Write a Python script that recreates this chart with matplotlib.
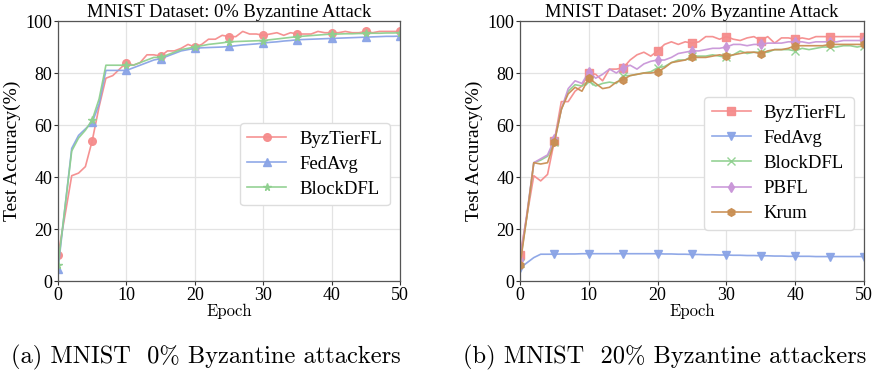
import numpy as np
import matplotlib
matplotlib.use("Agg")
import matplotlib.pyplot as plt

# ==========================
# Data
# ==========================
epochs = np.arange(0, 51)

# (a) 0% Byzantine
a_byztier = [10, 25, 40.5, 41.5, 44, 54, 67, 78, 79, 81.5,
             84, 83, 84, 87, 87, 86.5, 88.5, 88.5, 89.5, 91,
             90, 91, 93, 93, 94.5, 94, 94, 96, 95, 95,
             94.5, 95, 95.5, 94.5, 95.5, 95, 95, 95, 96, 95.5,
             95.5, 95.5, 96, 95.5, 95.5, 96, 95.5, 96, 96, 96, 96]
a_fedavg = [4.5, 28, 51, 56, 58.5, 61, 68, 81, 81, 81,
            81, 82, 83, 84, 85, 85.5, 86.5, 87.5, 88.5, 89,
            89.5, 89.7, 89.8, 89.9, 90, 90.2, 90.5, 90.8, 91, 91.2,
            91.5, 91.8, 92, 92.3, 92.5, 92.8, 92.9, 93, 93.1, 93.2,
            93.3, 93.4, 93.5, 93.6, 93.7, 93.8, 93.9, 94, 94.1, 94.1, 94.2]
a_blockdfl = [6, 28, 50, 55, 58, 62, 70, 83, 83, 83,
              83, 83, 84, 85, 86, 86, 87, 88, 89, 89.5,
              90, 90.5, 91, 91.3, 91.6, 92, 92.1, 92.2, 92.3, 92.4,
              92.5, 92.8, 93.1, 93.4, 93.7, 94, 94.2, 94.4, 94.6, 94.8,
              95, 95, 95.1, 95.1, 95.2, 95.2, 95.3, 95.3, 95.4, 95.4, 95.5]

# (b) 20% Byzantine
b_byztier = [10, 25, 40.5, 38.5, 41, 54, 69, 69, 73, 75,
             80, 79.5, 77, 81.5, 81.5, 82, 85, 87, 88, 86.5,
             88.5, 91, 92, 91, 92, 91.5, 92, 94, 94, 93,
             94, 93, 92.5, 93.5, 94, 92.5, 94, 91.5, 93.5, 93.5,
             93, 93.5, 93, 94, 94, 94, 94, 94, 94, 94, 94]
b_fedavg = [5, 7, 9, 10.3, 10.3, 10.3, 10.4, 10.4, 10.4, 10.5,
            10.5, 10.5, 10.5, 10.5, 10.5, 10.5, 10.5, 10.5, 10.5, 10.5,
            10.5, 10.4, 10.4, 10.3, 10.3, 10.2, 10.2, 10.1, 10.1, 10,
            10, 9.9, 9.9, 9.8, 9.8, 9.7, 9.7, 9.6, 9.6, 9.5,
            9.5, 9.5, 9.5, 9.4, 9.4, 9.4, 9.4, 9.4, 9.4, 9.4, 9.4]
b_blockdfl = [7, 25, 45.5, 46.5, 48, 53.5, 66, 73, 75.5, 75,
              77, 75, 76, 76.5, 76, 79, 79, 79.5, 80, 80.5,
              82, 82.5, 84, 85, 85, 86.5, 86.5, 86.5, 87, 86.5,
              86, 87, 88.5, 87.5, 88, 88, 88, 89, 89, 89,
              88.5, 89.5, 89, 89.5, 90, 90, 90, 90.5, 90.5, 90, 90.5]
b_pbfl = [8, 26, 45.5, 47, 48.5, 54.5, 66, 74, 77, 76,
          80.5, 78, 79.5, 81.5, 80, 82, 83, 81.5, 83.5, 84.5,
          85, 85, 86, 87.5, 88, 88.5, 88.5, 89, 89.5, 89.5,
          90, 91, 91, 90.5, 91, 91, 91.5, 91.5, 91.5, 92,
          92, 92, 91.5, 92, 92, 92, 92, 92.5, 92.5, 92.5, 92.5]
b_krum = [6, 25, 45.5, 45, 45.5, 53.5, 66, 72, 74.5, 73,
          78, 76, 74, 74.5, 76.5, 77.5, 79, 79.5, 80, 80,
          80.5, 82, 84, 84.5, 85, 86, 86, 86, 86.5, 87,
          86.5, 87, 87.5, 88, 88, 87.5, 88.5, 89, 89, 89.5,
          90.5, 90.5, 90.5, 90.5, 90.5, 91, 91, 91, 91, 91, 91]

c_byz = "#f58c8c"
c_fed = "#8aa4e6"
c_blk = "#8fd08f"
c_pb = "#c996d8"
c_krum = "#c98e52"

serif = ["Liberation Serif", "DejaVu Serif"]
plt.rcParams["font.family"] = serif

fig = plt.figure(figsize=(8.74, 3.78), dpi=100)
ax1 = fig.add_axes([0.0664, 0.2566, 0.3913, 0.6878])
ax2 = fig.add_axes([0.595, 0.2566, 0.3936, 0.6878])


def style(ax, title):
    ax.set_xlim(0, 50)
    ax.set_ylim(0, 100)
    ax.set_xticks([0, 10, 20, 30, 40, 50])
    ax.set_yticks([0, 20, 40, 60, 80, 100])
    ax.grid(True, color="#e3e3e3", linewidth=0.9)
    ax.set_axisbelow(True)
    ax.tick_params(labelsize=13, length=3, width=0.8, colors="#333333",
                   labelcolor="black", pad=1)
    for s in ax.spines.values():
        s.set_color("#555555")
        s.set_linewidth(0.9)
    ax.set_title(title, fontsize=13.3, pad=1)
    ax.set_ylabel("Test Accuracy(%)", fontsize=14)
    ax.yaxis.set_label_coords(-0.108, 0.5)


kw = dict(linewidth=1.2, markevery=5, markersize=5.5, alpha=0.95)
leg_kw = dict(loc="upper left", fontsize=13.5, handlelength=2.08,
              handletextpad=0.69, labelspacing=0.43, borderpad=0.4,
              borderaxespad=0, framealpha=1, edgecolor="#dddddd")

# ==========================
# (a) 0% attack
# ==========================
ax1.plot(epochs, a_byztier, color=c_byz, marker="o", label="ByzTierFL", **kw)
ax1.plot(epochs, a_fedavg, color=c_fed, marker="^", label="FedAvg", **kw)
ax1.plot(epochs, a_blockdfl, color=c_blk, marker="*", label="BlockDFL", **kw)
style(ax1, "MNIST Dataset: 0% Byzantine Attack")
ax1.legend(bbox_to_anchor=(0.532, 0.608), **leg_kw)

# ==========================
# (b) 20% attack
# ==========================
ax2.plot(epochs, b_byztier, color=c_byz, marker="s", label="ByzTierFL", **kw)
ax2.plot(epochs, b_fedavg, color=c_fed, marker="v", label="FedAvg", **kw)
ax2.plot(epochs, b_blockdfl, color=c_blk, marker="x", label="BlockDFL", **kw)
ax2.plot(epochs, b_pbfl, color=c_pb, marker="d", label="PBFL", **kw)
ax2.plot(epochs, b_krum, color=c_krum, marker="h", label="Krum", **kw)
style(ax2, "MNIST Dataset: 20% Byzantine Attack")
ax2.legend(bbox_to_anchor=(0.535, 0.708), **leg_kw)

# ==========================
# x labels and captions
# ==========================
cm = ["cmr10", "DejaVu Serif"]
for ax in (ax1, ax2):
    ax.set_xlabel("Epoch", fontsize=12, family=cm, labelpad=0)

fig.text(0.235, 0.055, "(a) MNIST  0% Byzantine attackers", ha="center",
         va="center", fontsize=17.6, family=cm)
fig.text(0.761, 0.055, "(b) MNIST  20% Byzantine attackers", ha="center",
         va="center", fontsize=17.6, family=cm)

fig.savefig("out.png", dpi=100)
